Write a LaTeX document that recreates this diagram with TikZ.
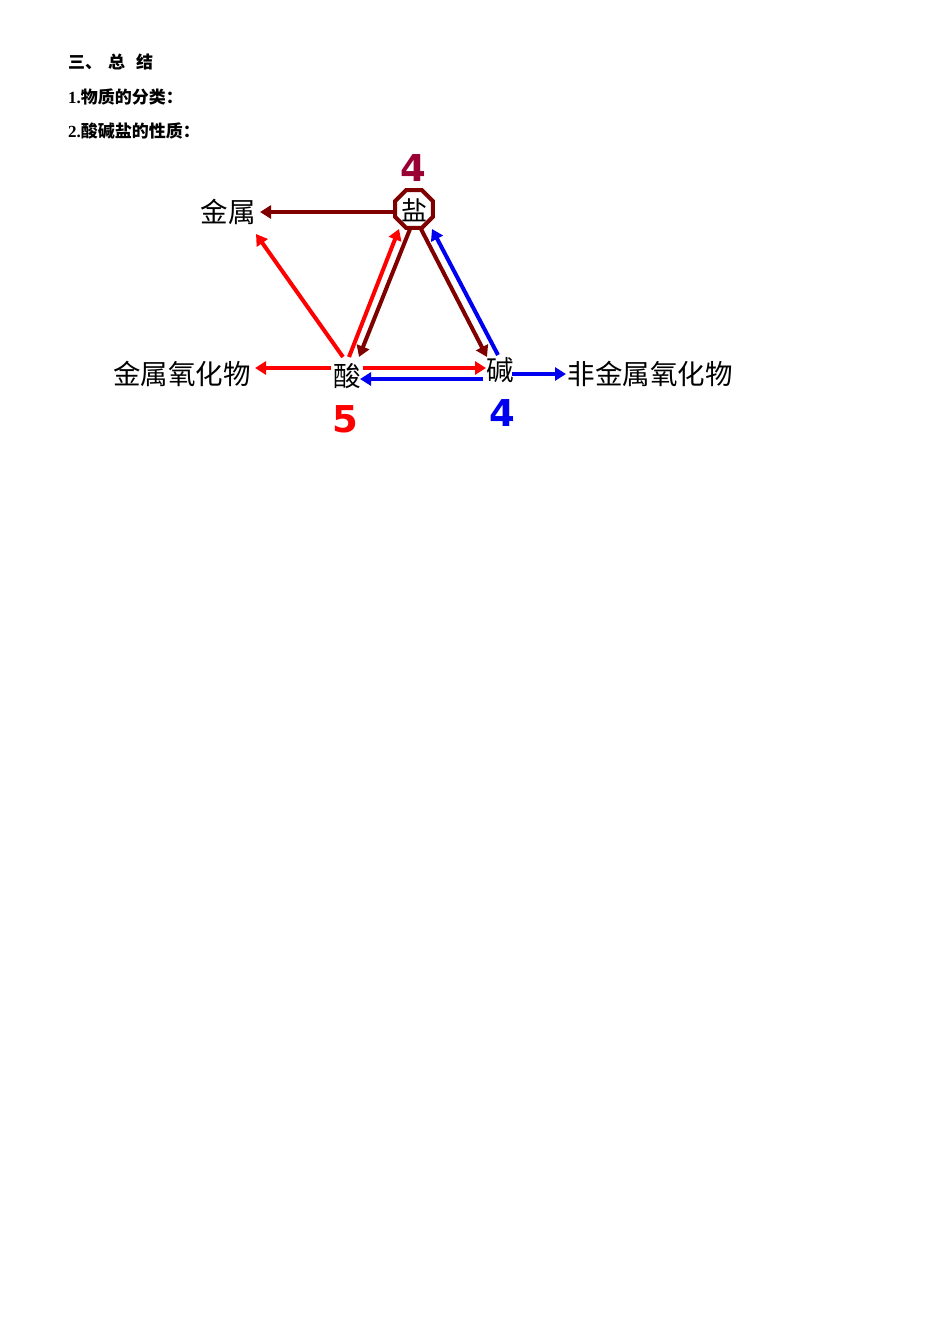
\documentclass[tikz,border=0pt]{standalone}
\usepackage{fontspec}
\setmainfont{Liberation Serif}
\newfontfamily\cjk{Noto Sans CJK SC}
\newfontfamily\numf{DejaVu Sans}
\usetikzlibrary{arrows.meta,shapes.geometric,calc}
\definecolor{dred}{RGB}{128,0,0}
\definecolor{cred}{RGB}{153,0,51}
\definecolor{pblue}{RGB}{0,0,240}
\begin{document}
\begin{tikzpicture}[x=1pt,y=-1pt,
  lbl/.style={inner sep=0pt,font=\cjk\fontsize{27.5}{30}\selectfont},
  head/.style={anchor=west,inner sep=0pt},
  oct/.style={regular polygon,regular polygon sides=8,minimum size=41pt,line width=4pt,draw=dred,inner sep=0pt,fill=white},
  num/.style={inner sep=0pt,font=\numf\bfseries\fontsize{37}{40}\selectfont},
  arr/.style={line width=4pt,-{Triangle[length=11pt,width=13pt]}}]
\fill[white] (0,0) rectangle (950,1344);
\useasboundingbox (0,0) rectangle (950,1344);
% headings
\node[head] (h0) at (68,62) {\cjk\bfseries\fontsize{17}{19}\selectfont 三、\hspace{6pt}总\hspace{11pt}结};
\node[head] (h1) at (68,97) {\fontsize{17}{19}\selectfont\bfseries 1.{\cjk\bfseries 物质的分类：}};
\node[head] (h2) at (68,131) {\fontsize{17}{19}\selectfont\bfseries 2.{\cjk\bfseries 酸碱盐的性质：}};
% nodes
\node[lbl] (jinshu) at (228,212) {金属};
\node[lbl] (jsyhw) at (182,374) {金属氧化物};
\node[lbl] (suan) at (347,376) {酸};
\node[lbl] (jian) at (500,370) {碱};
\node[lbl] (fjsyhw) at (650,374) {非金属氧化物};
\node[oct] (yan) at (414,209) {};
\node[lbl,font=\cjk\fontsize{26}{28}\selectfont] (yant) at (414,210) {盐};
\node[num,text=cred] (n4a) at (413,168) {4};
\node[num,text=red] (n5) at (345,419) {5};
\node[num,text=pblue] (n4b) at (502,413) {4};
% arrows
\draw[arr,dred] ($(yan)+(-20,3)$) -- ($(jinshu)+(32,0)$);
\draw[arr,red] ($(suan)+(-4,-19)$) -- ($(jinshu)+(28,22)$);
\draw[arr,red] ($(suan)+(2,-19)$) -- ($(yan)+(-15,20)$);
\draw[arr,dred] ($(yan)+(-4,20)$) -- ($(suan)+(12,-19)$);
\draw[arr,dred] ($(yan)+(7,20)$) -- ($(jian)+(-13,-13)$);
\draw[arr,pblue] ($(jian)+(-2,-15)$) -- ($(yan)+(18,20)$);
\draw[arr,red] ($(suan)+(-16,-8)$) -- ($(jsyhw)+(73,-6)$);
\draw[arr,red] ($(suan)+(16,-8)$) -- ($(jian)+(-14,-2)$);
\draw[arr,pblue] ($(jian)+(-17,9)$) -- ($(suan)+(13,3)$);
\draw[arr,pblue] ($(jian)+(12,4)$) -- ($(fjsyhw)+(-84,0)$);
\end{tikzpicture}
\end{document}
